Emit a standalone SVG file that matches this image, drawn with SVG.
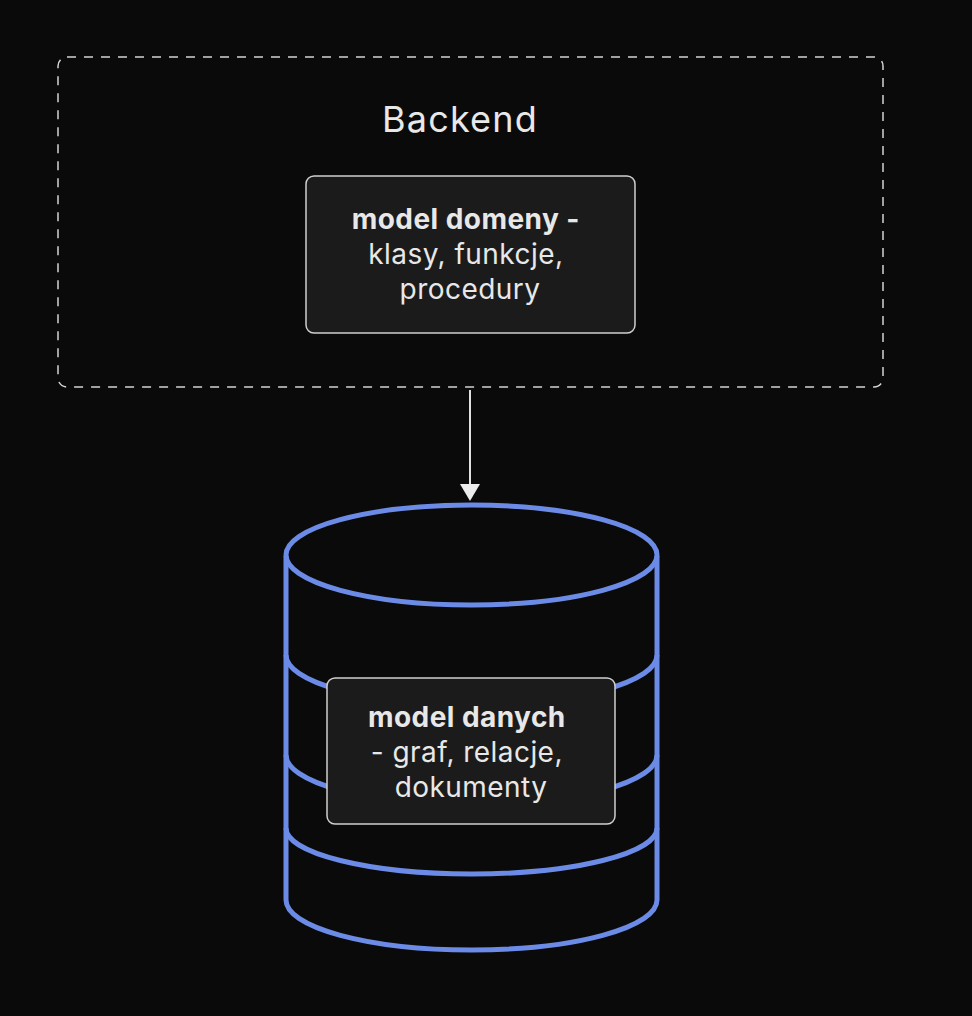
<svg xmlns="http://www.w3.org/2000/svg" width="972" height="1016" viewBox="0 0 972 1016">
  <defs>
    <style>
      .txt { font-family: Inter, "Noto Sans", "Liberation Sans", sans-serif; fill: #e8e8e8; text-anchor: middle; }
      .b { font-weight: 700; }
      .box { fill: #1b1b1b; stroke: #cfcfcf; stroke-width: 1.5; }
      .db { fill: none; stroke: #6b8be6; stroke-width: 5; }
    </style>
  </defs>
  <rect width="972" height="1016" fill="#0a0a0b"/>

  <g id="backend">
    <rect x="58" y="57" width="825" height="330" rx="9" fill="none" stroke="#d4d4d4" stroke-width="1.5" stroke-dasharray="9 8"/>
    <text class="txt" x="460" y="132" font-size="36" letter-spacing="1.2">Backend</text>
  </g>

  <g id="model-domeny">
    <rect class="box" x="306" y="176" width="329" height="157" rx="8"/>
    <text class="txt" font-size="28" letter-spacing="0.45">
      <tspan class="b" x="470" y="229">model domeny -</tspan>
      <tspan x="470" y="264">klasy, funkcje,</tspan>
      <tspan x="470" y="299">procedury</tspan>
    </text>
  </g>

  <g id="database">
    <path class="db" d="M286,556 L286,900 A185.5,50 0 0 0 657,900 L657,556"/>
    <ellipse class="db" cx="471.5" cy="555" rx="185.5" ry="50"/>
    <path class="db" d="M286,655 A185.5,50 0 0 0 657,655"/>
    <path class="db" d="M286,755 A185.5,50 0 0 0 657,755"/>
    <path class="db" d="M286,828 A185.5,46 0 0 0 657,828"/>
  </g>

  <g id="model-danych">
    <rect class="box" x="327" y="678" width="288" height="146" rx="8"/>
    <text class="txt" font-size="28" letter-spacing="0.45">
      <tspan class="b" x="471" y="727">model danych</tspan>
      <tspan x="471" y="762">- graf, relacje,</tspan>
      <tspan x="471" y="797">dokumenty</tspan>
    </text>
  </g>

  <g id="connectors">
    <line x1="470" y1="390" x2="470" y2="486" stroke="#e0e0e0" stroke-width="2"/>
    <polygon points="460,484 480,484 470,501" fill="#ececec"/>
  </g>
</svg>
